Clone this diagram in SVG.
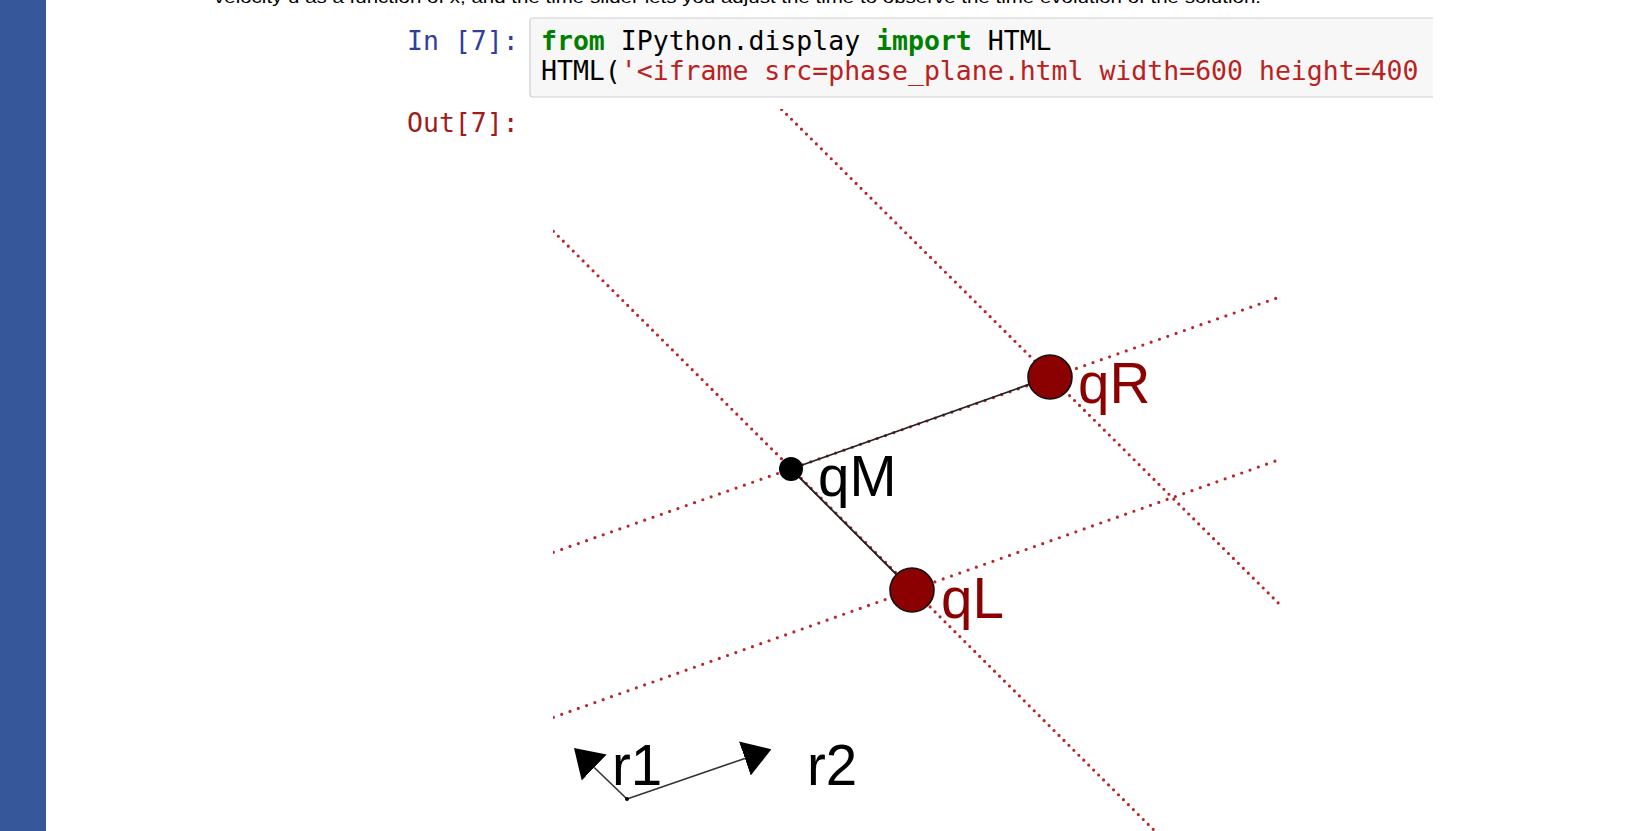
<svg xmlns="http://www.w3.org/2000/svg" width="1634" height="831" viewBox="0 0 1634 831">
<style>
.mono{font-family:"DejaVu Sans Mono","Liberation Mono",monospace;font-size:26.5px}
.kw{fill:#008000;font-weight:bold}
.str{fill:#BA2121}
.lbl{font-family:"Liberation Sans",Arial,sans-serif;font-size:56.5px}
.dotS{stroke:#b8262b;stroke-width:3.2;stroke-linecap:round;stroke-dasharray:0 7;fill:none}
.dotH{stroke:#b8262b;stroke-width:3.2;stroke-linecap:round;stroke-dasharray:0 8.8;fill:none}
.conn{stroke:#222;stroke-width:1.8;fill:none}
.vec{stroke:#333;stroke-width:1.6;fill:none}
.big{fill:#8b0000;stroke:#111;stroke-width:1.6}
</style>
<defs>
<clipPath id="frame"><rect x="553" y="109" width="727" height="722"/></clipPath>
<marker id="ah" markerUnits="userSpaceOnUse" markerWidth="28" markerHeight="36" viewBox="0 0 28 36" refX="0" refY="18" orient="auto"><path d="M0,0 L28,18 L0,36 z" fill="#000"/></marker>
</defs>
<rect width="1634" height="831" fill="#fff"/>
<rect id="sidebar" x="0" y="0" width="46" height="831" fill="#36589a"/>
<text x="214" y="3" font-family="Liberation Sans,Arial,sans-serif" font-size="17" fill="#000" textLength="1047" lengthAdjust="spacingAndGlyphs">velocity u as a function of x, and the time slider lets you adjust the time to observe the time evolution of the solution.</text>
<g id="input-cell">
<path d="M1433,18 L533,18 Q530,18 530,21 L530,94 Q530,97 533,97 L1433,97" fill="#f7f7f7" stroke="#cfcfcf" stroke-width="1.2"/>
<text class="mono" x="407" y="50" fill="#303F9F">In [7]:</text>
<text class="mono" x="541" y="50"><tspan class="kw">from</tspan><tspan fill="#000"> IPython.display </tspan><tspan class="kw">import</tspan><tspan fill="#000"> HTML</tspan></text>
<text class="mono" x="541" y="80"><tspan fill="#000">HTML(</tspan><tspan class="str">'&lt;iframe src=phase_plane.html width=600 height=400</tspan></text>
</g>
<text id="out-prompt" class="mono" x="407" y="132" fill="#a01b1b">Out[7]:</text>
<g id="guides" clip-path="url(#frame)">
<line class="dotS" x1="781.6" y1="109.4" x2="1279.7" y2="604.4"/>
<line class="dotS" x1="553.4" y1="231.3" x2="1154.8" y2="831"/>
<line class="dotH" x1="553.4" y1="552.3" x2="1279.7" y2="297"/>
<line class="dotH" x1="553.4" y1="717.3" x2="1279.7" y2="459.5"/>
</g>
<g id="connectors">
<line class="conn" x1="791" y1="469" x2="1050" y2="377"/>
<line class="conn" x1="791" y1="469" x2="912" y2="590"/>
</g>
<g id="qR">
<circle class="big" cx="1050" cy="377" r="22"/>
<text class="lbl" x="1078" y="403" fill="#8b0000">qR</text>
</g>
<g id="qM">
<circle cx="791" cy="469" r="12" fill="#000"/>
<text class="lbl" x="818" y="496" fill="#000">qM</text>
</g>
<g id="qL">
<circle class="big" cx="912" cy="590" r="22"/>
<text class="lbl" x="941" y="618" fill="#8b0000">qL</text>
</g>
<g id="r1">
<line class="vec" x1="627" y1="799" x2="594.2" y2="767.5" marker-end="url(#ah)"/>
<text class="lbl" x="612" y="785" fill="#000">r1</text>
</g>
<g id="r2">
<line class="vec" x1="627" y1="799" x2="744.9" y2="758.4" marker-end="url(#ah)"/>
<text class="lbl" x="807" y="785" fill="#000">r2</text>
</g>
<circle cx="627" cy="799" r="2" fill="#000"/>
</svg>
